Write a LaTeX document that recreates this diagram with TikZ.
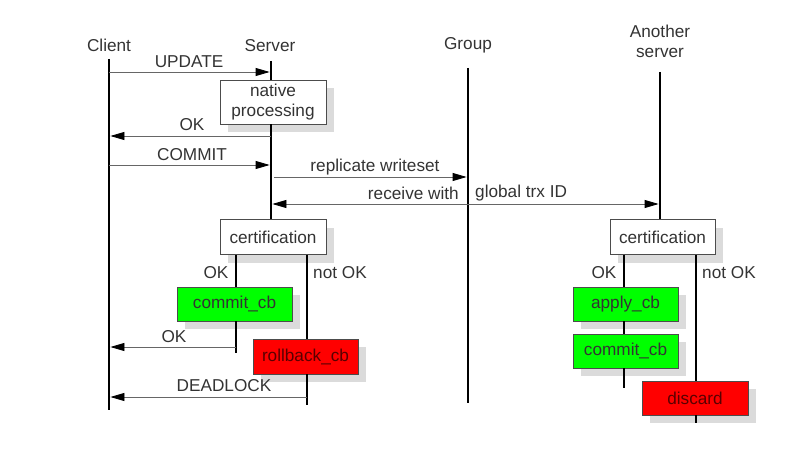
\documentclass[tikz,border=0pt]{standalone}
\usepackage{fontspec}
\setmainfont{Liberation Sans}
\usetikzlibrary{arrows.meta,shadows}
\begin{document}
\begin{tikzpicture}[x=1pt,y=-1pt,
  every node/.style={font=\fontsize{17.2}{20}\selectfont, text=black!80, inner sep=0pt},
  lifeline/.style={line width=2.8pt, black},
  msg/.style={line width=0.8pt, draw=black!60, -{Triangle[length=14pt,width=8pt,color=black]}, shorten >=1.4pt},
  bimsg/.style={line width=0.8pt, draw=black!60, {Triangle[length=14pt,width=8pt,color=black]}-{Triangle[length=14pt,width=8pt,color=black]}, shorten >=1.4pt, shorten <=1.4pt},
  box/.style={draw=black!70, line width=0.7pt, minimum height=34pt,
    drop shadow={shadow xshift=8pt, shadow yshift=-8pt, fill=black!14, opacity=1}},
  plainbox/.style={box, fill=white},
  okbox/.style={box, fill=green},
  failbox/.style={box, fill=red, text=red!35!black},
]
\useasboundingbox (0,0) rectangle (791,465);

% lifeline heads
\node (hclient) at (109,45) {Client};
\node (hserver) at (270,46) {Server};
\node (hgroup) at (468,45) {Group};
\node[align=center] (hanother) at (660,41) {Another\\server};

% processing boxes (drawn first so their shadows stay under the lines)
\node[plainbox, minimum width=106pt, minimum height=44pt, align=center] (native) at (273,102) {native\\processing};
\node[plainbox, minimum width=106pt, minimum height=35pt] (certL) at (273,237) {certification};
\node[okbox, minimum width=115pt] (commitL) at (234.5,304) {commit\_cb};
\node[failbox, minimum width=105pt, minimum height=35pt] (rollback) at (305.5,356.5) {rollback\_cb};
\node[plainbox, minimum width=105pt, minimum height=35pt] (certR) at (662.5,237) {certification};
\node[okbox, minimum width=105pt] (apply) at (625.5,304) {apply\_cb};
\node[okbox, minimum width=105pt] (commitR) at (625.5,351) {commit\_cb};
\node[failbox, minimum width=106pt] (discard) at (695,398) {discard};

% lifeline end points
\coordinate (clientTop) at (109,59);
\coordinate (clientEnd) at (109,410);
\coordinate (serverTop) at (271,61);
\coordinate (groupTop) at (468,68);
\coordinate (groupEnd) at (468,403);
\coordinate (anotherTop) at (660,72);
\coordinate (lokEnd) at (236,353);
\coordinate (lnokEnd) at (307,405);
\coordinate (rokEnd) at (624,388);
\coordinate (rnokEnd) at (696,423);

% lifelines
\draw[lifeline] (clientTop) -- (clientEnd);
\draw[lifeline] (serverTop) -- (serverTop |- native.north);
\draw[lifeline] (serverTop |- native.south) -- (serverTop |- certL.north);
\draw[lifeline] (groupTop) -- (groupEnd);
\draw[lifeline] (anotherTop) -- (anotherTop |- certR.north);
% certification outcomes, local server
\draw[lifeline] (certL.south -| lokEnd) -- (commitL.north -| lokEnd);
\draw[lifeline] (commitL.south -| lokEnd) -- (lokEnd);
\draw[lifeline] (certL.south -| lnokEnd) -- (rollback.north -| lnokEnd);
\draw[lifeline] (rollback.south -| lnokEnd) -- (lnokEnd);
% certification outcomes, remote server
\draw[lifeline] (certR.south -| rokEnd) -- (apply.north -| rokEnd);
\draw[lifeline] (apply.south -| rokEnd) -- (commitR.north -| rokEnd);
\draw[lifeline] (commitR.south -| rokEnd) -- (rokEnd);
\draw[lifeline] (certR.south -| rnokEnd) -- (discard.north -| rnokEnd);
\draw[lifeline] (discard.south -| rnokEnd) -- (rnokEnd);

% message end points
\coordinate (updC) at (109,72);   \coordinate (updS) at (271,72);
\coordinate (okS) at (271,136);   \coordinate (okC) at (109,136);
\coordinate (comC) at (109,165);  \coordinate (comS) at (271,165);
\coordinate (repS) at (274,177);  \coordinate (repG) at (468,177);
\coordinate (recS) at (271,204);  \coordinate (recA) at (660,204);
\coordinate (ok2S) at (236,347);  \coordinate (ok2C) at (109,347);
\coordinate (dlS) at (307,397);   \coordinate (dlC) at (109,397);

% messages
\draw[msg] (updC) -- (updS);
\draw[msg] (okS) -- (okC);
\draw[msg] (comC) -- (comS);
\draw[msg] (repS) -- (repG);
\draw[bimsg] (recS) -- (recA);
\draw[msg] (ok2S) -- (ok2C);
\draw[msg] (dlS) -- (dlC);

% message labels
\node (lupd) at (189,62) {UPDATE};
\node (lok) at (192,125) {OK};
\node (lcom) at (192,155) {COMMIT};
\node (lrep) at (375,167) {replicate writeset};
\node[anchor=east] (lrec) at (459,193) {receive with};
\node[anchor=west] (lgid) at (475,193) {global trx ID};
\node (lokL) at (216,273) {OK};
\node (lnokL) at (340,273) {not OK};
\node (lok2) at (174,337) {OK};
\node (ldl) at (224,386) {DEADLOCK};
\node (lokR) at (604,273) {OK};
\node (lnokR) at (729,273) {not OK};
\end{tikzpicture}
\end{document}
